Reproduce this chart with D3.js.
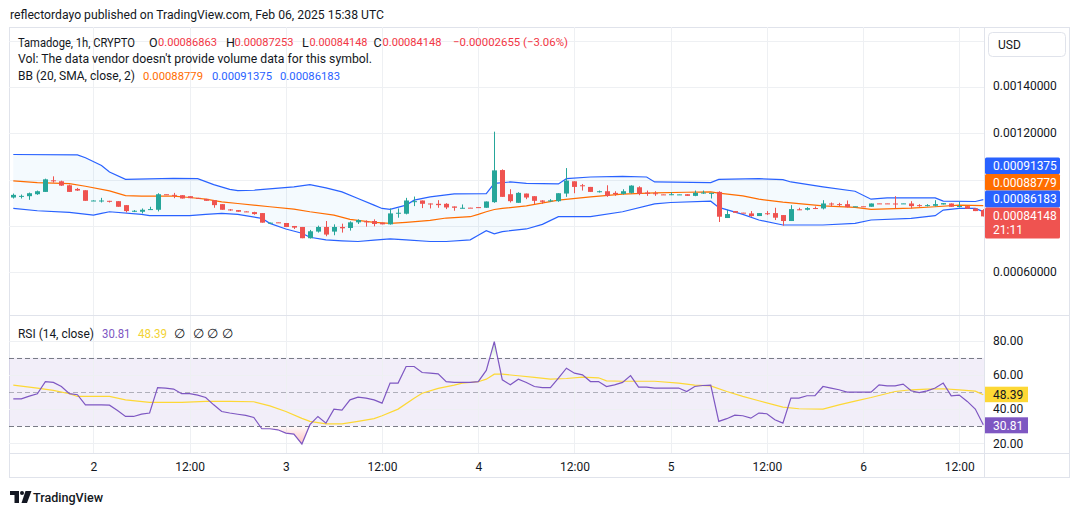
<!DOCTYPE html>
<html><head><meta charset="utf-8">
<script src="https://cdn.jsdelivr.net/npm/d3@7"></script>
<style>
html,body{margin:0;padding:0;background:#fff;}
svg{display:block;font-family:Roboto,"Noto Sans",sans-serif;}
</style></head><body>
<svg id="c" width="1080" height="515"></svg>
<script>
// ---------------- DATA ----------------
const open=[0.0009229,0.0009271,0.0009286,0.0009371,0.0009471,0.0009971,0.0009929,0.0009757,0.0009600,0.0009543,
0.0009090,0.0009086,0.0009086,0.0009071,0.0008900,0.0008629,0.0008614,0.0008714,0.0008700,0.0009371,
0.0009343,0.0009329,0.0009286,0.0009214,0.0009170,0.0009114,0.0008943,0.0008714,0.0008686,0.0008629,
0.0008600,0.0008557,0.0008130,0.0008157,0.0008129,0.0008000,0.0007957,0.0007471,0.0007757,0.0007957,
0.0007757,0.0007957,0.0007914,0.0008157,0.0008200,0.0008214,0.0008143,0.0008071,0.0008529,0.0008529,
0.0009043,0.0009100,0.0008971,0.0008957,0.0008957,0.0008843,0.0008771,0.0008790,0.0008814,0.0008786,
0.0009029,0.0010414,0.0009371,0.0009000,0.0009400,0.0009286,0.0009100,0.0009090,0.0009071,0.0009400,
0.0009929,0.0009757,0.0009686,0.0009471,0.0009500,0.0009429,0.0009386,0.0009429,0.0009671,0.0009443,
0.0009414,0.0009364,0.0009343,0.0009350,0.0009371,0.0009300,0.0009414,0.0009414,0.0009471,0.0008343,
0.0008643,0.0008575,0.0008543,0.0008429,0.0008550,0.0008557,0.0008471,0.0008214,0.0008720,0.0008700,
0.0008775,0.0008757,0.0008971,0.0008943,0.0008943,0.0008840,0.0008850,0.0008829,0.0008975,0.0008975,
0.0008971,0.0008965,0.0008971,0.0008900,0.0008871,0.0008871,0.0008929,0.0008971,0.0008850,0.0008857,
0.0008757,0.00086863];
const high=[0.0009400,0.0009357,0.0009443,0.0009529,0.0010043,0.0010143,0.0009957,0.0009786,0.0009643,0.0009543,
0.0009114,0.0009214,0.0009086,0.0009071,0.0008900,0.0008686,0.0008757,0.0008829,0.0009414,0.0009371,
0.0009429,0.0009329,0.0009286,0.0009214,0.0009170,0.0009114,0.0008943,0.0008729,0.0008686,0.0008629,
0.0008614,0.0008557,0.0008150,0.0008157,0.0008129,0.0008000,0.0007957,0.0007829,0.0008014,0.0008214,
0.0008071,0.0008100,0.0008200,0.0008286,0.0008243,0.0008286,0.0008143,0.0008757,0.0008757,0.0009214,
0.0009270,0.0009100,0.0008971,0.0009114,0.0008986,0.0008843,0.0008929,0.0008790,0.0008814,0.0009057,
0.0012071,0.0010443,0.0009586,0.0009457,0.0009400,0.0009286,0.0009114,0.0009157,0.0009414,0.0010500,
0.0009929,0.0009814,0.0009686,0.0009529,0.0009757,0.0009500,0.0009586,0.0009757,0.0009714,0.0009529,
0.0009500,0.0009364,0.0009457,0.0009364,0.0009371,0.0009529,0.0009529,0.0009429,0.0009500,0.0008700,
0.0008643,0.0008575,0.0008643,0.0008557,0.0008643,0.0008786,0.0008471,0.0008900,0.0008786,0.0008814,
0.0008843,0.0009114,0.0009014,0.0009000,0.0009100,0.0008850,0.0008850,0.0008971,0.0008975,0.0008975,
0.0009286,0.0008975,0.0009071,0.0008943,0.0008943,0.0009114,0.0008986,0.0008971,0.0009043,0.0008857,
0.0008757,0.00087253];
const low=[0.0009186,0.0009186,0.0009129,0.0009343,0.0009471,0.0009871,0.0009729,0.0009471,0.0009514,0.0009086,
0.0009086,0.0009014,0.0009014,0.0008829,0.0008586,0.0008600,0.0008543,0.0008700,0.0008629,0.0009357,
0.0009200,0.0009186,0.0009200,0.0009186,0.0009086,0.0008786,0.0008700,0.0008657,0.0008614,0.0008600,
0.0008486,0.0008143,0.0008129,0.0008143,0.0007957,0.0007871,0.0007471,0.0007457,0.0007714,0.0007557,
0.0007600,0.0007714,0.0007800,0.0008086,0.0007971,0.0007986,0.0008071,0.0008057,0.0008357,0.0008500,
0.0008857,0.0008771,0.0008757,0.0008786,0.0008729,0.0008657,0.0008757,0.0008780,0.0008800,0.0008786,
0.0009000,0.0009257,0.0009014,0.0009000,0.0009157,0.0008943,0.0008957,0.0009043,0.0009043,0.0009257,
0.0009414,0.0009529,0.0009471,0.0009443,0.0009257,0.0009300,0.0009357,0.0009400,0.0009329,0.0009300,
0.0009300,0.0009350,0.0009329,0.0009350,0.0009300,0.0009286,0.0009386,0.0009186,0.0008171,0.0008343,
0.0008571,0.0008565,0.0008400,0.0008429,0.0008471,0.0008257,0.0008014,0.0008214,0.0008686,0.0008671,
0.0008729,0.0008714,0.0008843,0.0008857,0.0008800,0.0008840,0.0008840,0.0008829,0.0008965,0.0008965,
0.0008757,0.0008965,0.0008757,0.0008829,0.0008843,0.0008843,0.0008929,0.0008829,0.0008800,0.0008743,
0.0008643,0.00084148];
const close=[0.0009343,0.0009300,0.0009414,0.0009500,0.0010014,0.0009929,0.0009743,0.0009471,0.0009529,0.0009086,
0.0009100,0.0009100,0.0009071,0.0008829,0.0008643,0.0008657,0.0008700,0.0008729,0.0009371,0.0009357,
0.0009300,0.0009186,0.0009200,0.0009186,0.0009086,0.0008900,0.0008700,0.0008700,0.0008614,0.0008600,
0.0008514,0.0008143,0.0008143,0.0008143,0.0007957,0.0007929,0.0007471,0.0007771,0.0007957,0.0007629,
0.0007957,0.0007900,0.0008157,0.0008257,0.0008171,0.0008086,0.0008071,0.0008543,0.0008571,0.0009100,
0.0009071,0.0008957,0.0008943,0.0008900,0.0008800,0.0008786,0.0008786,0.0008780,0.0008800,0.0009057,
0.0010400,0.0009257,0.0009071,0.0009429,0.0009229,0.0009086,0.0009043,0.0009105,0.0009414,0.0009957,
0.0009686,0.0009729,0.0009471,0.0009500,0.0009300,0.0009371,0.0009500,0.0009743,0.0009386,0.0009386,
0.0009386,0.0009350,0.0009371,0.0009364,0.0009300,0.0009429,0.0009443,0.0009429,0.0008400,0.0008514,
0.0008571,0.0008565,0.0008429,0.0008557,0.0008540,0.0008357,0.0008214,0.0008729,0.0008710,0.0008771,
0.0008765,0.0008971,0.0008943,0.0008914,0.0008814,0.0008850,0.0008840,0.0008971,0.0008965,0.0008965,
0.0008957,0.0008975,0.0008857,0.0008871,0.0008900,0.0008943,0.0008986,0.0008829,0.0008860,0.0008743,
0.0008643,0.00084148];

// Bollinger Bands (20, SMA, close, 2) read at candle indices
const bbUpperIdx=[0,8,9,11,12,14,20,23,25,27,28,30,35,37,39,41,43,45,46,47,49,50,52,54,55,59,60,62,64,68,69,72,76,79,80,87,88,93,96,97,101,105,107,109,115,116,120,121];
const bbUpper=[0.0011086,0.0011071,0.0010943,0.0010614,0.0010329,0.0010014,0.0010057,0.0010043,0.0009786,0.0009580,0.0009529,0.0009543,0.0009686,0.0009786,0.0009643,0.0009471,0.0009186,0.0008900,0.0008757,0.0008714,0.0008900,0.0009114,0.0009257,0.0009343,0.0009386,0.0009400,0.0009843,0.0009900,0.0009843,0.0009814,0.0010043,0.0010114,0.0010143,0.0010114,0.0009900,0.0009871,0.0010014,0.0010043,0.0010000,0.0009900,0.0009686,0.0009500,0.0009157,0.0009214,0.0009214,0.0009071,0.0009057,0.00091375];
const bbBasisIdx=[0,3,7,9,12,14,16,20,22,24,26,28,32,35,37,40,42,45,47,49,52,54,57,58,59,60,61,64,68,72,76,80,84,87,88,91,93,96,101,105,107,112,115,118,121];
const bbBasis=[0.0009943,0.0009871,0.0009829,0.0009714,0.0009514,0.0009314,0.0009286,0.0009286,0.0009229,0.0009157,0.0009043,0.0008971,0.0008829,0.0008729,0.0008614,0.0008471,0.0008286,0.0008157,0.0008114,0.0008157,0.0008243,0.0008343,0.0008400,0.0008500,0.0008614,0.0008710,0.0008757,0.0008871,0.0009114,0.0009257,0.0009371,0.0009429,0.0009457,0.0009471,0.0009420,0.0009300,0.0009157,0.0009029,0.0008871,0.0008800,0.0008714,0.0008771,0.0008829,0.0008900,0.00088779];
const bbLowerIdx=[0,3,7,10,11,12,16,17,22,24,26,28,31,32,34,36,37,39,41,43,45,47,49,52,54,57,58,59,60,61,64,66,68,72,76,80,82,87,88,91,93,96,101,105,107,112,115,116,118,120,121];
const bbLower=[0.0008757,0.0008657,0.0008586,0.0008471,0.0008543,0.0008614,0.0008500,0.0008443,0.0008443,0.0008500,0.0008543,0.0008500,0.0008329,0.0008114,0.0007871,0.0007686,0.0007514,0.0007400,0.0007357,0.0007329,0.0007386,0.0007443,0.0007400,0.0007329,0.0007329,0.0007400,0.0007600,0.0007800,0.0007657,0.0007757,0.0007871,0.0008071,0.0008400,0.0008400,0.0008614,0.0008957,0.0009014,0.0009071,0.0008800,0.0008500,0.0008257,0.0008043,0.0008043,0.0008114,0.0008257,0.0008329,0.0008443,0.0008686,0.0008757,0.0008757,0.00086183];

// RSI (14, close), one value per candle
const rsi=[46.0,46.0,47.6,49.0,56.1,55.6,53.2,49.0,48.4,42.5,
42.5,42.5,42.3,39.2,35.7,35.7,37.1,37.7,52.6,52.3,
51.7,49.0,49.0,48.2,46.8,42.5,38.6,37.7,37.0,36.3,
35.1,28.5,28.5,27.9,26.0,25.4,19.6,30.9,35.7,31.8,
40.0,39.4,45.4,47.0,46.4,45.4,43.5,55.2,55.2,64.9,
64.9,61.4,61.0,60.6,56.1,55.6,55.6,55.6,56.1,62.6,
79.5,57.1,54.2,57.5,55.6,53.2,52.6,52.6,58.1,63.9,
61.0,60.0,56.1,56.1,53.2,54.2,55.6,59.6,52.8,52.8,
52.3,52.3,52.3,52.3,50.3,53.2,53.8,54.0,32.8,34.4,
36.5,36.1,34.7,37.7,37.3,33.8,31.8,46.4,46.4,47.8,
47.8,53.2,52.3,51.3,49.9,49.9,49.9,49.9,54.2,53.6,
53.6,54.6,50.7,49.7,50.7,52.3,55.2,47.8,48.2,44.5,
40.0,30.81];
// RSI-based moving average, read at candle indices
const rsiMaIdx=[0,3,5,7,8,12,14,17,21,24,27,30,32,34,36,37,39,41,43,45,46,48,50,51,53,55,56,58,59,60,61,63,65,67,69,71,73,74,76,80,83,85,87,89,91,93,96,98,101,103,105,107,110,112,114,116,118,120,121];
const rsiMa=[54.0,52.3,50.9,49.0,47.4,47.4,45.4,43.9,43.9,44.5,44.5,44.3,41.9,38.6,34.6,32.8,31.4,31.4,32.8,34.4,36.1,40.0,46.4,49.3,52.1,54.0,55.2,56.0,57.5,60.4,60.4,59.5,58.5,57.5,57.9,58.7,58.3,56.5,56.3,56.3,55.2,54.0,53.6,50.3,47.4,44.9,41.2,40.2,40.0,42.5,44.7,46.8,50.3,51.3,51.7,51.9,51.3,50.5,48.39];
const rsiLevels=[70,50,30];

// Axis ticks
const priceGrid=[0.0006,0.0008,0.0010,0.0012,0.0014,0.0016];
const priceTickLabels=[0.0006,0.0012,0.0014]; // the others sit under the value tags / USD button
const rsiTicks=[20,40,60,80];
const tickTimes=["2025-02-02T00:00Z","2025-02-02T12:00Z","2025-02-03T00:00Z","2025-02-03T12:00Z","2025-02-04T00:00Z","2025-02-04T12:00Z","2025-02-05T00:00Z","2025-02-05T12:00Z","2025-02-06T00:00Z","2025-02-06T12:00Z"];
const tickLabels=["2","12:00","3","12:00","4","12:00","5","12:00","6","12:00"];
const firstBar="2025-02-01T14:00Z";

// ---------------- LAYOUT ----------------
const GREEN="#26A69A", RED="#EF5350", BLUE="#2962FF", ORANGE="#FF6D00", PURPLE="#7E57C2", YELLOW="#FDD835";
const TXT="#131722", GRID="#eef0f3", BORDER="#e0e3eb";
const L=9, R=985, AXR=1070, TOP=27, MAINBOT=315, RSITOP=316, RSIBOT=453, BOT=478;

const svg=d3.select("#c");
const n=close.length;
const t0=new Date(firstBar);
const times=d3.range(n).map(i=>d3.utcHour.offset(t0,i));
const x=d3.scaleUtc().domain([times[0],times[n-1]]).range([13.3,983.3]);
const y=d3.scaleLinear().domain([0.0006,0.0014]).range([272.3,87]);
const yr=d3.scaleLinear().domain([20,80]).range([443.3,340.7]);
const tt=tickTimes.map(d=>new Date(d));

const defs=svg.append("defs");
defs.append("clipPath").attr("id","cm").append("rect").attr("x",L).attr("y",TOP).attr("width",R-L).attr("height",MAINBOT-TOP);
defs.append("clipPath").attr("id","cr").append("rect").attr("x",L).attr("y",RSITOP).attr("width",R-L).attr("height",RSIBOT-RSITOP);
defs.append("clipPath").attr("id","cos").append("rect").attr("x",L).attr("y",yr(30)).attr("width",R-L).attr("height",RSIBOT-yr(30));
defs.append("clipPath").attr("id","cob").append("rect").attr("x",L).attr("y",RSITOP).attr("width",R-L).attr("height",yr(70)-RSITOP);
const gOS=defs.append("linearGradient").attr("id","gos").attr("gradientUnits","userSpaceOnUse").attr("x1",0).attr("x2",0).attr("y1",yr(30)).attr("y2",yr(20));
gOS.append("stop").attr("offset",0).attr("stop-color","#ff5252").attr("stop-opacity",0.02);
gOS.append("stop").attr("offset",1).attr("stop-color","#ff5252").attr("stop-opacity",0.35);
const gOB=defs.append("linearGradient").attr("id","gob").attr("gradientUnits","userSpaceOnUse").attr("x1",0).attr("x2",0).attr("y1",yr(70)).attr("y2",yr(80));
gOB.append("stop").attr("offset",0).attr("stop-color","#4caf50").attr("stop-opacity",0.02);
gOB.append("stop").attr("offset",1).attr("stop-color","#4caf50").attr("stop-opacity",0.35);

svg.append("rect").attr("width",1080).attr("height",515).attr("fill","#fff");

// text helper: fixed width to match the reference layout
const seg=(g,xx,yy,t,c,w,fs)=>{
  const e=g.append("text").attr("x",xx).attr("y",yy).attr("dy","0.35em").attr("fill",c||TXT).text(t);
  if(fs) e.attr("font-size",fs);
  if(w) e.attr("textLength",w).attr("lengthAdjust","spacingAndGlyphs");
  return e;
};

// header
seg(svg,10,14.7,"reflectordayo published on TradingView.com, Feb 06, 2025 15:38 UTC",TXT,374,12.5);

// frame
svg.append("rect").attr("x",L+0.5).attr("y",TOP+0.5).attr("width",AXR-L-1).attr("height",BOT-TOP-1).attr("fill","none").attr("stroke",BORDER);

// ---------- main pane ----------
const gm=svg.append("g").attr("clip-path","url(#cm)");
gm.selectAll("line.hg").data(priceGrid).join("line").attr("x1",L).attr("x2",R)
  .attr("y1",d=>Math.round(y(d))+0.5).attr("y2",d=>Math.round(y(d))+0.5).attr("stroke",GRID);
gm.selectAll("line.vg").data(tt).join("line").attr("y1",TOP).attr("y2",MAINBOT)
  .attr("x1",d=>Math.round(x(d))+0.5).attr("x2",d=>Math.round(x(d))+0.5).attr("stroke",GRID);

const pts=(idx,val)=>d3.zip(idx,val).map(([i,v])=>[x(times[i]),y(v)]);
const up=pts(bbUpperIdx,bbUpper), mid=pts(bbBasisIdx,bbBasis), lo=pts(bbLowerIdx,bbLower);
const line=d3.line();
gm.append("path").attr("d",line(up)+"L"+line(lo.slice().reverse()).slice(1)+"Z").attr("fill","rgba(33,150,243,0.05)");
gm.append("path").attr("d",line(up)).attr("fill","none").attr("stroke",BLUE).attr("stroke-width",1.2);
gm.append("path").attr("d",line(lo)).attr("fill","none").attr("stroke",BLUE).attr("stroke-width",1.2);
gm.append("path").attr("d",line(mid)).attr("fill","none").attr("stroke",ORANGE).attr("stroke-width",1.2);

const candles=d3.range(n).map(i=>({t:times[i],o:open[i],h:high[i],l:low[i],c:close[i]}));
const col=d=>d.c>=d.o?GREEN:RED;
gm.selectAll("line.wick").data(candles).join("line")
  .attr("x1",d=>Math.round(x(d.t))+0.5).attr("x2",d=>Math.round(x(d.t))+0.5)
  .attr("y1",d=>y(d.h)).attr("y2",d=>y(d.l)).attr("stroke",col);
gm.selectAll("rect.body").data(candles).join("rect")
  .attr("x",d=>Math.round(x(d.t))-2).attr("width",5)
  .attr("y",d=>y(Math.max(d.o,d.c))).attr("height",d=>Math.max(1,Math.abs(y(d.o)-y(d.c))))
  .attr("fill",col);

// legend main
const lg=svg.append("g").attr("font-size",12.5).attr("fill",TXT);
const VR="#F23645", VF=11.4;
seg(lg,18,42.3,"Tamadoge, 1h, CRYPTO",TXT,117,12);
seg(lg,149,42.3,"O"); seg(lg,158,42.3,"0.00086863",VR,59,VF);
seg(lg,226,42.3,"H"); seg(lg,234.5,42.3,"0.00087253",VR,59,VF);
seg(lg,302,42.3,"L"); seg(lg,309.5,42.3,"0.00084148",VR,58,VF);
seg(lg,373.5,42.3,"C"); seg(lg,382.5,42.3,"0.00084148",VR,59,VF);
seg(lg,453,42.3,"\u22120.00002655 (\u22123.06%)",VR,115,VF);
seg(lg,18,58.5,"Vol: The data vendor doesn't provide volume data for this symbol.",TXT,354);
seg(lg,18,75.7,"BB (20, SMA, close, 2)",TXT,117,12);
seg(lg,143,75.7,"0.00088779",ORANGE,60,VF);
seg(lg,212,75.7,"0.00091375",BLUE,60,VF);
seg(lg,280,75.7,"0.00086183",BLUE,60,VF);

// pane separator
svg.append("line").attr("x1",L).attr("x2",AXR).attr("y1",MAINBOT+0.5).attr("y2",MAINBOT+0.5).attr("stroke",BORDER);

// ---------- RSI pane ----------
const gr=svg.append("g").attr("clip-path","url(#cr)");
gr.append("rect").attr("x",L).attr("width",R-L).attr("y",yr(70)).attr("height",yr(30)-yr(70)).attr("fill","rgba(126,87,194,0.1)");
gr.selectAll("line.hg").data(rsiTicks).join("line").attr("x1",L).attr("x2",R)
  .attr("y1",d=>Math.round(yr(d))+0.5).attr("y2",d=>Math.round(yr(d))+0.5).attr("stroke",GRID);
gr.selectAll("line.vg").data(tt).join("line").attr("y1",RSITOP).attr("y2",RSIBOT)
  .attr("x1",d=>Math.round(x(d))+0.5).attr("x2",d=>Math.round(x(d))+0.5).attr("stroke",GRID);
gr.selectAll("line.lev").data(rsiLevels).join("line").attr("x1",L).attr("x2",R)
  .attr("y1",d=>Math.round(yr(d))+0.5).attr("y2",d=>Math.round(yr(d))+0.5)
  .attr("stroke",d=>d===50?"rgba(120,123,134,0.55)":"#787B86").attr("stroke-dasharray","5,3");
const rsiPts=rsi.map((v,i)=>({t:times[i],v}));
gr.append("path").attr("clip-path","url(#cos)").attr("fill","url(#gos)")
  .attr("d",d3.area().x(d=>x(d.t)).y0(yr(30)).y1(d=>yr(d.v))(rsiPts));
gr.append("path").attr("clip-path","url(#cob)").attr("fill","url(#gob)")
  .attr("d",d3.area().x(d=>x(d.t)).y0(yr(70)).y1(d=>yr(d.v))(rsiPts));
gr.append("path").attr("fill","none").attr("stroke",YELLOW).attr("stroke-width",1.2)
  .attr("d",d3.line().x(d=>x(times[d[0]])).y(d=>yr(d[1]))(d3.zip(rsiMaIdx,rsiMa)));
gr.append("path").attr("fill","none").attr("stroke",PURPLE).attr("stroke-width",1.2)
  .attr("d",d3.line().x(d=>x(d.t)).y(d=>yr(d.v))(rsiPts));

const rl=svg.append("g").attr("font-size",12.5);
seg(rl,18,333.3,"RSI (14, close)",TXT,76);
seg(rl,102,333.3,"30.81",PURPLE,28.5);
seg(rl,138,333.3,"48.39","#F2D337",29);
[174,192.5,207,222].forEach(xx=>seg(rl,xx,333.3,"\u2205"));

// ---------- axes ----------
svg.append("line").attr("x1",R-0.5).attr("x2",R-0.5).attr("y1",TOP).attr("y2",BOT).attr("stroke",BORDER);
svg.append("line").attr("x1",L).attr("x2",AXR).attr("y1",RSIBOT+0.5).attr("y2",RSIBOT+0.5).attr("stroke",BORDER);

const styleAxis=g=>{g.select(".domain").remove();g.attr("font-family",null).attr("font-size",12);g.selectAll("text").attr("fill",TXT);g.selectAll("line").remove();};
svg.append("g").attr("transform",`translate(${R},-1)`)
  .call(d3.axisRight(y).tickValues(priceTickLabels).tickFormat(d3.format(".8f")).tickSize(0).tickPadding(8)).call(styleAxis);
svg.append("g").attr("transform",`translate(${R},0)`)
  .call(d3.axisRight(yr).tickValues(rsiTicks).tickFormat(d3.format(".2f")).tickSize(0).tickPadding(8)).call(styleAxis);
svg.append("g").attr("transform",`translate(0,${RSIBOT})`)
  .call(d3.axisBottom(x).tickValues(tt).tickFormat((d,i)=>tickLabels[i]).tickSize(0).tickPadding(9)).call(styleAxis);

// USD box
svg.append("rect").attr("x",988.5).attr("y",32.5).attr("width",77).attr("height",24).attr("rx",4).attr("fill","#fff").attr("stroke",BORDER);
svg.append("text").attr("x",998).attr("y",44.7).attr("dy","0.35em").attr("font-size",12).attr("fill",TXT).text("USD");

// price labels (stacked)
const tags=[
 {y0:157.5,h:16.5,c:BLUE,t:["0.00091375"]},
 {y0:174,h:16.5,c:ORANGE,t:["0.00088779"]},
 {y0:190.5,h:17,c:BLUE,t:["0.00086183"]},
 {y0:207.5,h:31,c:RED,t:["0.00084148","21:11"]}
];
tags.forEach(tg=>{
  svg.append("rect").attr("x",R).attr("y",tg.y0).attr("width",75).attr("height",tg.h).attr("rx",1.5).attr("fill",tg.c);
  tg.t.forEach((s,k)=>svg.append("text").attr("x",993).attr("y",tg.y0+8.5+k*13.5).attr("dy","0.35em").attr("font-size",12).attr("fill","#fff").text(s));
});
// RSI labels
svg.append("rect").attr("x",R).attr("y",386.7).attr("width",43).attr("height",15.5).attr("fill",YELLOW);
svg.append("text").attr("x",993).attr("y",394.5).attr("dy","0.35em").attr("font-size",12).attr("fill",TXT).text("48.39");
svg.append("rect").attr("x",R).attr("y",417.3).attr("width",43).attr("height",16).attr("fill",PURPLE);
svg.append("text").attr("x",993).attr("y",425.3).attr("dy","0.35em").attr("font-size",12).attr("fill","#fff").text("30.81");

// TradingView logo
const logo=svg.append("g").attr("fill","#131722");
logo.append("rect").attr("x",10).attr("y",491).attr("width",9).attr("height",4);
logo.append("rect").attr("x",14.5).attr("y",491).attr("width",4.5).attr("height",12);
logo.append("circle").attr("cx",22).attr("cy",493).attr("r",2);
logo.append("path").attr("d","M25.5,491 L31.5,491 L27,503 L21.5,503 Z");
seg(svg,33,497,"TradingView",TXT,70,13).attr("font-weight",500);
</script>
</body></html>
